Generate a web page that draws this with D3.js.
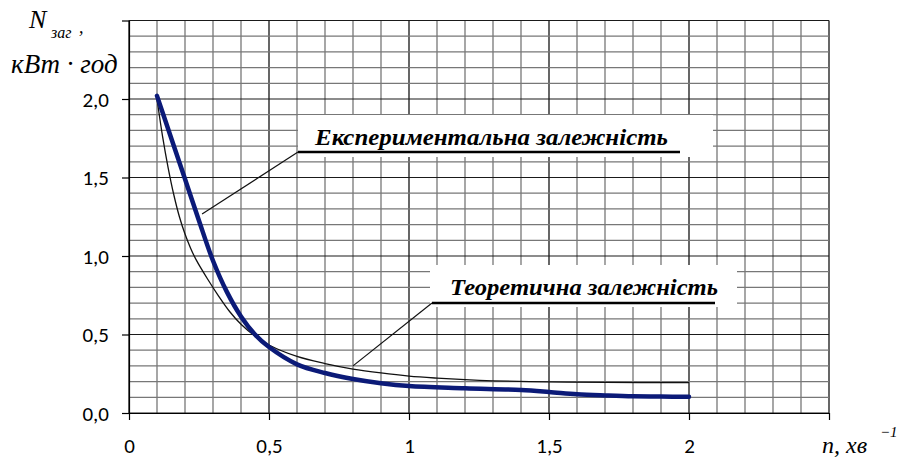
<!DOCTYPE html>
<html>
<head>
<meta charset="utf-8">
<script src="https://cdn.jsdelivr.net/npm/d3@7/dist/d3.min.js"></script>
<style>
  html, body { margin: 0; padding: 0; background: #fff; }
  svg { display: block; }
</style>
</head>
<body>
<svg id="chart" width="903" height="459"></svg>
<script>
// Experimental dependence (thick blue curve)
const expX = [0.10, 0.15, 0.20, 0.25, 0.30, 0.35, 0.40, 0.45, 0.50, 0.60, 0.70, 0.80, 0.90, 1.00, 1.20, 1.40, 1.50, 1.60, 1.70, 1.80, 1.90, 2.00];
const expY = [2.02, 1.755, 1.49, 1.225, 0.97, 0.77, 0.615, 0.50, 0.42, 0.31, 0.255, 0.217, 0.19, 0.172, 0.158, 0.146, 0.134, 0.12, 0.112, 0.106, 0.105, 0.103];

// Theoretical dependence (thin black curve)
const theoX = [0.10, 0.12, 0.14, 0.16, 0.18, 0.20, 0.22, 0.24, 0.28, 0.32, 0.36, 0.40, 0.45, 0.50, 0.60, 0.70, 0.80, 0.90, 1.00, 1.10, 1.20, 1.30, 1.50, 1.70, 2.00];
const theoY = [2.00, 1.76, 1.56, 1.39, 1.25, 1.14, 1.05, 0.975, 0.855, 0.745, 0.645, 0.565, 0.49, 0.433, 0.36, 0.315, 0.28, 0.255, 0.235, 0.222, 0.212, 0.205, 0.198, 0.195, 0.193];

// Axis ticks
const xTicks = [0, 0.5, 1, 1.5, 2, 2.5];
const xTickLabels = ["0", "0,5", "1", "1,5", "2", ""];
const yTicks = [0, 0.5, 1, 1.5, 2, 2.5];
const yTickLabels = ["0,0", "0,5", "1,0", "1,5", "2,0", ""];

// Series labels
const seriesNames = ["Експериментальна залежність", "Теоретична залежність"];

const svg = d3.select("#chart");
const x = d3.scaleLinear().domain([0, 2.5]).range([129, 829]);
const y = d3.scaleLinear().domain([0, 2.5]).range([413, 20.5]);

// Grid: minor every 0.1, major every 0.5
const gridVals = d3.range(0, 26).map(i => i / 10);
const isMajor = v => Math.abs(v * 2 - Math.round(v * 2)) < 1e-6;
const grid = svg.append("g");
grid.selectAll("line.v").data(gridVals).join("line")
  .attr("x1", d => x(d)).attr("x2", d => x(d))
  .attr("y1", y(2.5)).attr("y2", y(0))
  .attr("stroke", d => isMajor(d) ? "#000" : "#777")
  .attr("stroke-width", d => isMajor(d) ? 1.2 : 1.3);
grid.selectAll("line.h").data(gridVals).join("line")
  .attr("y1", d => y(d)).attr("y2", d => y(d))
  .attr("x1", x(0)).attr("x2", x(2.5))
  .attr("stroke", d => isMajor(d) ? "#1a1a1a" : "#777")
  .attr("stroke-width", d => isMajor(d) ? 1.2 : 1.3);

// Axes
const labelFont = "Carlito, 'Open Sans', sans-serif";
const xAxis = svg.append("g").attr("transform", `translate(0,${y(0)})`)
  .call(d3.axisBottom(x).tickValues(xTicks).tickSize(7).tickSizeOuter(0)
    .tickFormat((d, i) => xTickLabels[i]));
xAxis.select(".domain").attr("stroke", "#000").attr("stroke-width", 1.2);
xAxis.selectAll(".tick line").attr("stroke", "#000").attr("stroke-width", 1.2);
xAxis.selectAll(".tick text").attr("y", 40).attr("dy", 0)
  .attr("fill", "#000").style("font-family", labelFont).style("font-size", "21px");

const yAxis = svg.append("g").attr("transform", `translate(${x(0)},0)`)
  .call(d3.axisLeft(y).tickValues(yTicks).tickSize(7).tickSizeOuter(0).tickPadding(13)
    .tickFormat((d, i) => yTickLabels[i]));
yAxis.select(".domain").attr("stroke", "#000").attr("stroke-width", 1.2);
yAxis.selectAll(".tick line").attr("stroke", "#000").attr("stroke-width", 1.2);
yAxis.selectAll(".tick text").attr("dy", "0.34em")
  .attr("fill", "#000").style("font-family", labelFont).style("font-size", "21px");

// Curves
const theoData = theoX.map((v, i) => [v, theoY[i]]);
const expData = expX.map((v, i) => [v, expY[i]]);
const smooth = d3.line().x(d => x(d[0])).y(d => y(d[1])).curve(d3.curveCatmullRom.alpha(0.5));

svg.append("path").datum(theoData)
  .attr("d", smooth).attr("fill", "none")
  .attr("stroke", "#111").attr("stroke-width", 1.3);
svg.append("path").datum(expData)
  .attr("d", smooth).attr("fill", "none")
  .attr("stroke", "#0b1a78").attr("stroke-width", 4.5)
  .attr("stroke-linecap", "round").attr("stroke-linejoin", "round");

// Labelled annotations with leader lines
const serif = "'Liberation Serif', 'Times New Roman', serif";
const notes = [
  { name: seriesNames[0], box: [298, 115, 415, 42], under: [298, 680, 152], tip: [0.261, 1.267], tx: 315, ty: 145, tw: 353 },
  { name: seriesNames[1], box: [430, 265, 307, 42], under: [432, 715, 303], tip: [0.80, 0.30], tx: 450, ty: 295, tw: 268 }
];
notes.forEach(n => {
  svg.append("rect").attr("x", n.box[0]).attr("y", n.box[1])
    .attr("width", n.box[2]).attr("height", n.box[3]).attr("fill", "#fff");
  svg.append("line").attr("x1", n.under[0]).attr("x2", x(n.tip[0]))
    .attr("y1", n.under[2]).attr("y2", y(n.tip[1]))
    .attr("stroke", "#111").attr("stroke-width", 1.2);
  svg.append("line").attr("x1", n.under[0]).attr("x2", n.under[1])
    .attr("y1", n.under[2]).attr("y2", n.under[2])
    .attr("stroke", "#000").attr("stroke-width", 2.4);
  svg.append("text").attr("x", n.tx).attr("y", n.ty)
    .attr("textLength", n.tw).attr("lengthAdjust", "spacingAndGlyphs")
    .style("font-family", serif).style("font-size", "23px")
    .style("font-weight", "bold").style("font-style", "italic")
    .attr("fill", "#000").text(n.name);
});

// Y axis title: N_заг, кВт·год
const yt = svg.append("text").style("font-family", serif).style("font-style", "italic").attr("fill", "#000");
yt.append("tspan").attr("x", 29).attr("y", 28).style("font-size", "26px").text("N");
yt.append("tspan").attr("x", 51).attr("y", 38).style("font-size", "16px").text("заг");
yt.append("tspan").attr("x", 79).attr("y", 33).style("font-size", "18px").text(",");
svg.append("text").attr("x", 11).attr("y", 73)
  .style("font-family", serif).style("font-style", "italic").style("font-size", "27px")
  .attr("fill", "#000").text("кВт · год");

// X axis title: n, хв^-1
const xt = svg.append("text").style("font-family", serif).style("font-style", "italic").attr("fill", "#000");
xt.append("tspan").attr("x", 822).attr("y", 453).style("font-size", "24px").text("n,  хв");
xt.append("tspan").attr("x", 880).attr("y", 437).style("font-size", "15px").text("−1");
</script>
</body>
</html>
